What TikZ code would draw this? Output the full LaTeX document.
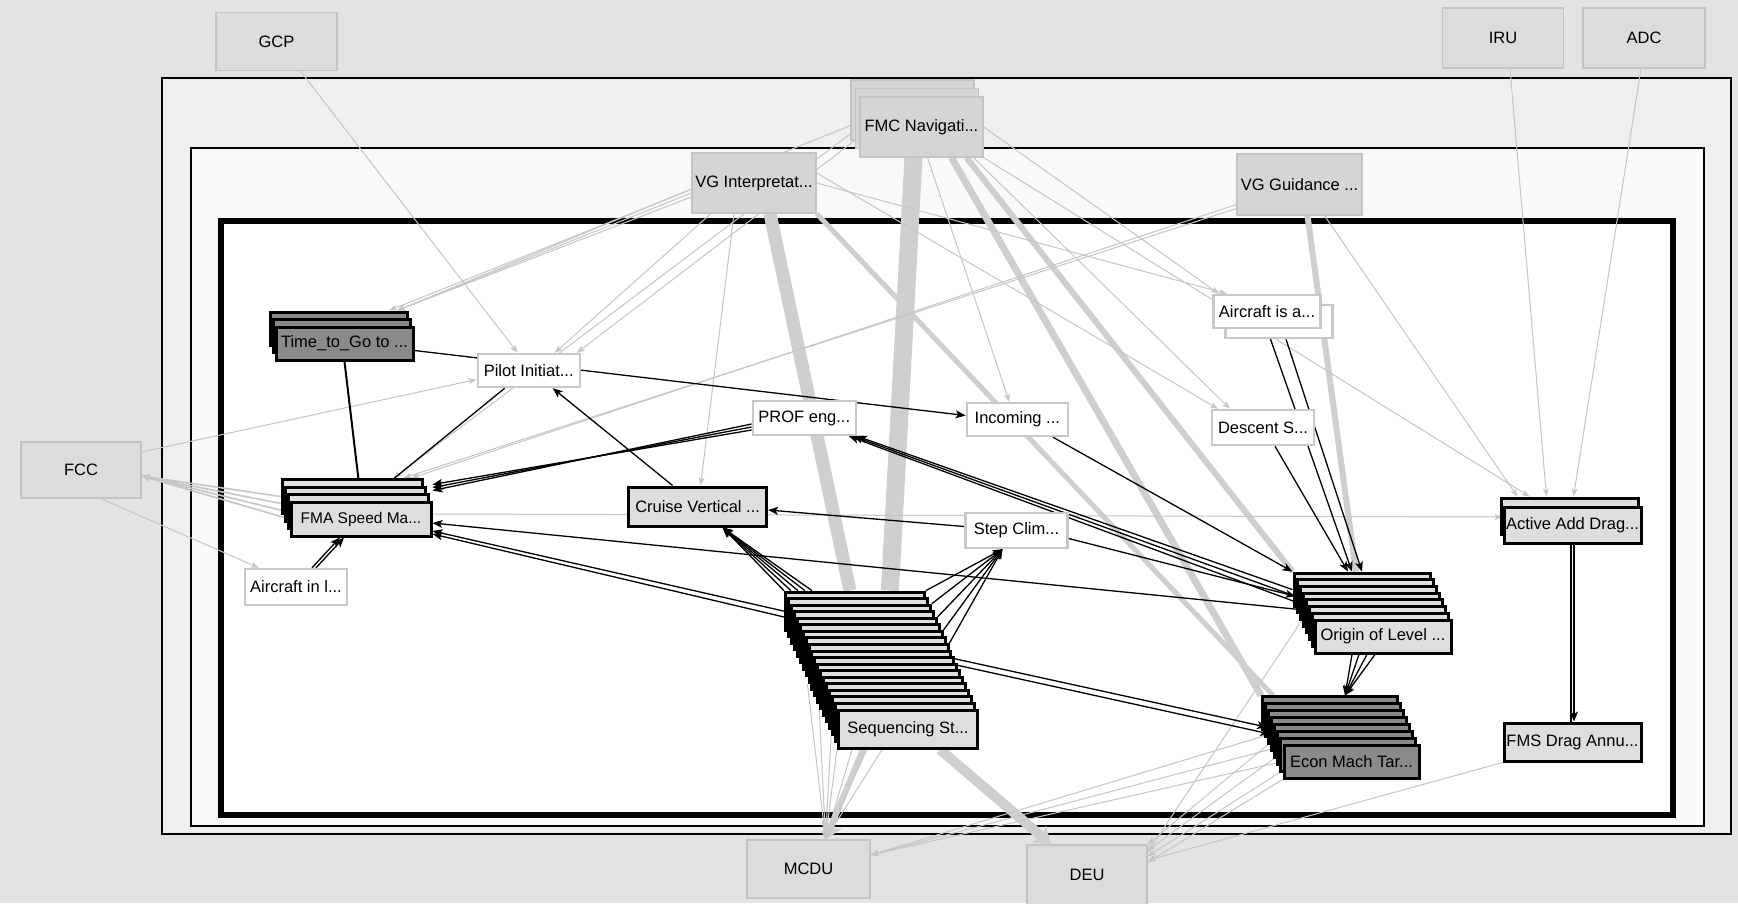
\documentclass[tikz,border=0pt]{standalone}
\usepackage{fontspec}
\setmainfont{Liberation Sans}
\usetikzlibrary{arrows.meta}

\pgfdeclarelayer{frame}
\pgfdeclarelayer{wires}
\pgfsetlayers{frame,wires,main}

\definecolor{canvas}{HTML}{E3E3E3}
\definecolor{outerfill}{HTML}{EFEFEF}
\definecolor{midfill}{HTML}{F9F9F9}
\definecolor{extfill}{HTML}{DCDCDC}
\definecolor{extline}{HTML}{C4C4C4}
\definecolor{srcfill}{HTML}{D5D5D5}
\definecolor{stateline}{HTML}{C8C8C8}
\definecolor{modefill}{HTML}{DEDEDE}
\definecolor{darkfill}{HTML}{8A8A8A}
\definecolor{faintwire}{HTML}{C6C6C6}
\definecolor{bandwire}{HTML}{CFCFCF}

\begin{document}
\begin{tikzpicture}[
	x=1pt, y=-1pt,
	font=\fontsize{16.5}{19}\selectfont,
	every node/.style={inner sep=0pt},
	extbox/.style={draw=extline, fill=extfill, line width=1.2pt, minimum width=121pt, minimum height=58pt},
	srcbox/.style={draw=extline, fill=srcfill, line width=1.2pt, minimum width=124pt, minimum height=60pt},
	statebox/.style={draw=stateline, fill=white, line width=2.4pt, minimum width=102pt, minimum height=34pt},
	modebox/.style={draw=black, fill=modefill, line width=3pt, minimum height=34pt},
	darkbox/.style={modebox, fill=darkfill},
	link/.style={black, line width=1.3pt, -{Stealth[length=10pt, width=8pt, inset=2.5pt]}},
	plain/.style={black, line width=1.3pt},
	faint/.style={faintwire, line width=1pt, -{Stealth[length=8pt, width=6pt, inset=2pt]}},
	band/.style={bandwire, line width=#1},
	band/.default=8pt,
	bandtip/.style={-{Stealth[length=16pt, width=22pt, inset=4pt]}}
	]
	\useasboundingbox (0,0) rectangle (1738,903);

	% ======================
	% Rahmen
	% ======================
	\begin{pgfonlayer}{frame}
		\fill[canvas] (0,0) rectangle (1738,903);
		\draw[line width=1.5pt, fill=outerfill] (162,78) rectangle (1731,834);
		\draw[line width=1.5pt, fill=midfill] (191,148) rectangle (1704,826);
		\draw[line width=6pt, fill=white] (221,221) rectangle (1673,815);
	\end{pgfonlayer}

	% ======================
	% externe Systeme
	% ======================
	\node[extbox] (gcp) at (276.5,41.5) {GCP};
	\node[extbox, minimum height=60pt] (iru) at (1503,38) {IRU};
	\node[extbox, minimum width=122pt, minimum height=60pt] (adc) at (1644,38) {ADC};
	\node[extbox, minimum width=120pt, minimum height=56pt] (fcc) at (81,470) {FCC};
	\node[extbox, minimum width=123pt] (mcdu) at (808.5,869) {MCDU};
	\node[extbox, minimum width=120pt, minimum height=60pt] (deu) at (1087,875) {DEU};

	% Quellen (oben)
	\node[srcbox, minimum width=123pt] (fmc0) at (912.5,110) {};
	\node[srcbox, minimum width=123pt] (fmc1) at (917,118.5) {};
	\node[srcbox, minimum width=123pt] (fmc) at (921.5,127) {FMC Navigati...};
	\node[srcbox] (vgi) at (754,183) {VG Interpretat...};
	\node[srcbox, minimum width=125pt, minimum height=61pt] (vgg) at (1299.5,184.5) {VG Guidance ...};

	% ======================
	% Zustaende
	% ======================
	\foreach \i in {0,1}
		\node[darkbox, minimum width=137pt, minimum height=33pt] (ttg\i) at ({344.5-2.7*(2-\i)}, {343.5-7.5*(2-\i)}) {};
	\node[darkbox, minimum width=137pt, minimum height=33pt] (ttg) at (344.5,343.5) {Time\_to\_Go to ...};

	\node[statebox, minimum height=33pt] (pilot) at (528.7,370.5) {Pilot Initiat...};

	\foreach \i in {0,1,2}
		\node[modebox, minimum width=140pt] (fma\i) at ({361-3*(3-\i)}, {519-7.5*(3-\i)}) {};
	\node[modebox, minimum width=140pt, font=\fontsize{15.5}{18}\selectfont] (fma) at (361,519) {FMA Speed Ma...};

	\node[statebox, minimum height=36pt] (ainl) at (296,587) {Aircraft in l...};
	\node[statebox, minimum width=103pt] (prof) at (804.3,418) {PROF eng...};
	\node[statebox, minimum width=101pt, minimum height=33pt] (inc) at (1017.3,419.5) {Incoming ...};
	\node[modebox, minimum width=138pt, minimum height=39pt] (cruise) at (697.6,506.5) {Cruise Vertical ...};
	\node[statebox, minimum height=35pt] (stepc) at (1016.5,530.5) {Step Clim...};

	\node[statebox, minimum width=107pt, minimum height=33pt] (ais0) at (1279,321.5) {};
	\node[statebox, minimum width=107pt, minimum height=33pt] (ais) at (1267,311.5) {Aircraft is a...};
	\node[statebox, minimum height=35pt] (desc) at (1263,427.5) {Descent S...};

	\node[modebox, minimum width=137pt, minimum height=36pt] (active0) at (1569.5,516) {};
	\node[modebox, minimum width=137pt, minimum height=36pt] (active) at (1572.5,525) {Active Add Drag...};
	\node[modebox, minimum width=137pt, minimum height=38pt] (fmsd) at (1572.5,742) {FMS Drag Annu...};

	\foreach \i in {0,...,6}
		\node[modebox, minimum width=136pt, minimum height=33pt] (orig\i) at ({1383-3*(7-\i)}, {636.5-6.7*(7-\i)}) {};
	\node[modebox, minimum width=136pt, minimum height=33pt] (orig) at (1383,636.5) {Origin of Level ...};

	\foreach \i in {0,...,6}
		\node[darkbox, minimum width=135pt, minimum height=33pt] (econ\i) at ({1351.5-3.07*(7-\i)}, {761.5-6.86*(7-\i)}) {};
	\node[darkbox, minimum width=135pt, minimum height=33pt] (econ) at (1351.5,761.5) {Econ Mach Tar...};

	\foreach \i in {0,...,17}
		\node[modebox, minimum width=139pt, minimum height=38pt] (seq\i) at ({908-2.95*(18-\i)}, {729-6.55*(18-\i)}) {};
	\node[modebox, minimum width=139pt, minimum height=38pt] (seq) at (908,729) {Sequencing St...};

	% ======================
	% Verbindungen
	% ======================
	\begin{pgfonlayer}{wires}
		% breite Buendel
		\draw[band=18pt] ([xshift=-8pt]fmc.south) -- ([xshift=35pt]seq0.north);
		\draw[band=13pt] ([xshift=16pt]vgi.south) -- ([xshift=-5pt]seq0.north);
		\draw[band=7pt] ([xshift=30pt]fmc.south) -- (econ0.north west);
		\draw[band=6pt] ([xshift=45pt]fmc.south) -- (orig0.north west);
		\draw[band=5pt] (vgi.south east) -- ([xshift=12pt]econ0.north west);
		\draw[band=6pt] ([xshift=8pt]vgg.south) -- ([xshift=-6pt]orig0.north);
		\draw[band=10pt, bandtip] ([xshift=32pt]seq.south) -- ([xshift=-36pt]deu.north);
		\draw[band=6pt, bandtip] ([xshift=-45pt]seq.south) -- ([xshift=17pt]mcdu.north);
		\foreach \s in {0,15,30,45}
			\draw[faint] ([xshift=\s]seq.south west) -- ([xshift=17pt]mcdu.north);
		\foreach \i in {8,12,16}
			\draw[faint] (seq\i.south west) -- ([xshift=17pt]mcdu.north);
		\foreach \n in {fma0,fma1,fma2,fma}
			\draw[faint, line width=1.6pt] (\n.west) -- ([yshift=-6pt]fcc.east);

		% schwache Kanten
		\draw[faint] ([xshift=20pt]fcc.south) -- ([xshift=15pt]ainl.north west);
		\draw[faint] ([yshift=18pt]fcc.east) -- ([yshift=-9pt]pilot.west);
		\draw[faint] ([xshift=24pt]gcp.south) -- ([xshift=-11pt]pilot.north);
		\draw[faint] ([xshift=7pt]iru.south) -- ([xshift=-23pt]active0.north);
		\draw[faint] ([xshift=-3pt]adc.south) -- ([xshift=4pt]active0.north);
		\draw[faint] ([xshift=25pt]vgg.south) -- ([xshift=-52pt]active0.north);
		\draw[faint] (fmc.south east) -- ([xshift=-40pt]active0.north);
		\draw[faint] ([yshift=5pt]fma.east) -- ([yshift=8pt]active.west);
		\draw[faint] ([xshift=52pt]fmc.south) -- ([xshift=-33pt]desc.north);
		\draw[faint] ([yshift=10pt]vgi.east) -- ([xshift=-45pt]desc.north);
		\draw[faint] (vgi.east) -- ([xshift=-40pt]ais.north);
		\draw[faint] (fmc.east) -- ([xshift=-48pt]ais.north);
		\draw[faint] ([xshift=6pt]fmc.south) -- ([xshift=-8pt]inc.north);
		\draw[faint] ([xshift=-20pt]vgi.south) -- ([xshift=3pt]cruise.north);
		\draw[faint] ([xshift=-43pt]vgi.south) -- ([xshift=26pt]pilot.north);
		\foreach \s in {-14,-10,-6}
			\draw[faint] ([yshift=\s]vgi.west) -- ([xshift=-12pt]ttg0.north east);
		\draw[faint] ([yshift=5pt]fmc.west) -- ([xshift=-20pt]ttg0.north east);
		\draw[faint] ([yshift=-10pt]fmc.west) -- ([xshift=-4pt]pilot.north east);
		\draw[faint] (fmc.west) -- ([xshift=-30pt]fma0.north east);
		\draw[faint] ([yshift=-20pt]vgg.west) -- ([xshift=-12pt]fma0.north east);
		\draw[faint] ([yshift=-24pt]vgg.west) -- ([xshift=-20pt]fma0.north east);
		\foreach \n in {econ3,econ5,econ}
			\draw[faint] (\n.west) -- ([yshift=14pt]mcdu.east);
		\foreach \n/\s in {econ2/0, econ4/-6, econ6/-12, econ/-18}
			\draw[faint] (\n.south west) -- ([yshift=\s]deu.north east);
		\draw[faint] (orig4.west) -- ([yshift=-8pt]deu.north east);
		\draw[faint] (fmsd.south west) -- ([yshift=-16pt]deu.north east);

		% Hauptkanten
		\draw[link, line width=2pt] (ttg.south) -- (fma.north);
		\draw[link] ([yshift=-7pt]ttg.east) -- ([yshift=4pt]inc.west);
		\draw[link] ([xshift=-24pt]pilot.south) -- ([xshift=6pt]fma.north);
		\draw[link] ([xshift=-25pt]cruise.north) -- ([xshift=24pt]pilot.south);
		\foreach \a/\b in {-6/10, -9/13, -12/16}
			\draw[link] ([yshift=\a]prof.west) -- ([yshift=\b]fma.north east);
		\draw[link] (orig3.west) -- ([yshift=-4pt]fma.east);
		\draw[link] (seq0.west) -- ([yshift=-12pt]fma.east);
		\draw[link] (seq1.west) -- ([yshift=-15pt]fma.east);
		\foreach \a/\b in {16/-21, 20/-17}
			\draw[link] ([xshift=\a]ainl.north) -- ([xshift=\b]fma.south);
		\foreach \s in {0,7,14,21,28}
			\draw[link] ([xshift=\s]seq0.north west) -- ([xshift=25pt]cruise.south);
		\foreach \i in {0,2,4,6,8}
			\draw[link] (seq\i.north east) -- ([xshift=-14pt]stepc.south);
		\draw[link] ([yshift=4pt]stepc.west) -- ([yshift=-3.5pt]cruise.east);
		\draw[link] ([yshift=-8pt]stepc.east) -- (orig1.west);
		\draw[link] (orig0.west) -- (prof.south east);
		\draw[link] (orig1.west) -- ([xshift=-4pt]prof.south east);
		\draw[link] (orig2.west) -- ([xshift=-8pt]prof.south east);
		\draw[link] ([xshift=-16pt]inc.south east) -- (orig0.north west);
		\draw[link] (ais.south) -- ([xshift=-10pt]orig0.north);
		\draw[link] ([xshift=7pt]ais0.south) -- (orig0.north);
		\draw[link] ([xshift=12pt]desc.south) -- ([xshift=-14pt]orig0.north);
		\foreach \s in {-31,-24,-16,-8}
			\draw[link] ([xshift=\s]orig.south) -- ([xshift=15pt]econ0.north);
		\draw[link] (seq7.east) -- (econ2.west);
		\draw[link] (seq8.east) -- (econ3.west);
		\draw[plain] ([xshift=-1.5pt]active.south) -- ([xshift=-1.5pt]fmsd.north);
		\draw[link] ([xshift=1.5pt]active.south) -- ([xshift=1.5pt]fmsd.north);
	\end{pgfonlayer}

\end{tikzpicture}
\end{document}
